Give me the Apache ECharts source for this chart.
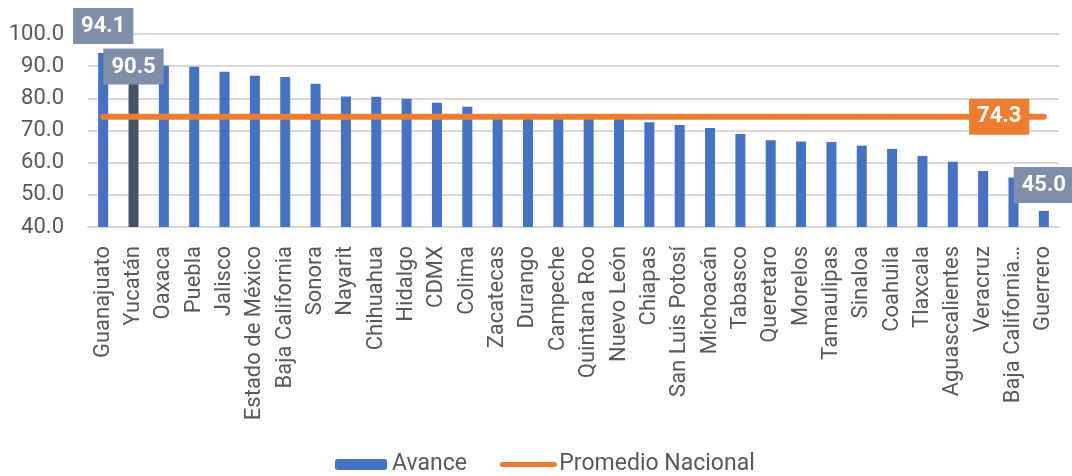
<!DOCTYPE html>
<html>
<head>
<meta charset="utf-8">
<script src="https://cdn.jsdelivr.net/npm/echarts@6/dist/echarts.min.js"></script>
<style>
html,body{margin:0;padding:0;background:#fff;}
#c{width:1072px;height:476px;}
</style>
</head>
<body>
<div id="c"></div>
<script>
const categories = ["Guanajuato","Yucatán","Oaxaca","Puebla","Jalisco","Estado de México","Baja California","Sonora","Nayarit","Chihuahua","Hidalgo","CDMX","Colima","Zacatecas","Durango","Campeche","Quintana Roo","Nuevo León","Chiapas","San Luis Potosí","Michoacán","Tabasco","Queretaro","Morelos","Tamaulipas","Sinaloa","Coahuila","Tlaxcala","Aguascalientes","Veracruz","Baja California Sur","Guerrero"];
const tickLabels = ["Guanajuato","Yucatán","Oaxaca","Puebla","Jalisco","Estado de México","Baja California","Sonora","Nayarit","Chihuahua","Hidalgo","CDMX","Colima","Zacatecas","Durango","Campeche","Quintana Roo","Nuevo León","Chiapas","San Luis Potosí","Michoacán","Tabasco","Queretaro","Morelos","Tamaulipas","Sinaloa","Coahuila","Tlaxcala","Aguascalientes","Veracruz","Baja California…","Guerrero"];
const avance = [94.1,90.5,90.1,89.8,88.3,87.0,86.6,84.5,80.6,80.5,79.9,78.6,77.4,75.0,74.6,74.2,73.9,73.6,72.6,71.7,70.8,68.9,67.0,66.6,66.4,65.3,64.3,62.1,60.3,57.4,55.4,45.0];
const promedioNacional = 74.3;
const promedio = categories.map(() => promedioNacional);
const yTicks = [40,50,60,70,80,90,100];

const boxLabel = {
  show: true,
  color: '#fff',
  fontFamily: 'Roboto',
  fontWeight: 'bold',
  fontSize: 22,
  lineHeight: 23,
  backgroundColor: '#7F8FA9',
  padding: [7, 8, 6, 8],
  formatter: p => p.value.toFixed(1)
};

const barData = avance.map((v, i) => {
  const item = { value: v };
  if (i === 1) item.itemStyle = { color: '#44546A' };
  if (i === 0) item.label = Object.assign({}, boxLabel, { position: 'top', distance: 9 });
  if (i === 1) item.label = Object.assign({}, boxLabel, { position: 'top', distance: 0, offset: [0, 20] });
  if (i === avance.length - 1) item.label = Object.assign({}, boxLabel, { position: 'top', distance: 8 });
  return item;
});

const lineData = promedio.map((v, i) => {
  const item = { value: v };
  if (i === promedio.length - 1) {
    item.label = Object.assign({}, boxLabel, { position: 'left', distance: 14, backgroundColor: '#ED7D31' });
  }
  return item;
});

const chart = echarts.init(document.getElementById('c'), null, { renderer: 'canvas' });
chart.setOption({
  animation: false,
  textStyle: { fontFamily: 'Roboto' },
  grid: { left: 88, right: 13, top: 34, bottom: 249, containLabel: false },
  legend: {
    bottom: 0,
    left: 335,
    padding: [0, 0, 0, 0],
    itemWidth: 52,
    itemHeight: 11,
    itemGap: 33,
    textStyle: { color: '#595959', fontSize: 23, fontFamily: 'Roboto' },
    data: [
      { name: 'Avance' },
      { name: 'Promedio Nacional', itemStyle: { opacity: 0 }, lineStyle: { width: 5, cap: 'round' } }
    ]
  },
  xAxis: {
    type: 'category',
    data: categories,
    boundaryGap: true,
    axisTick: { show: false },
    axisLine: { show: true, lineStyle: { color: '#D9D9D9', width: 2 } },
    axisLabel: {
      rotate: 90,
      interval: 0,
      margin: 19,
      color: '#595959',
      fontSize: 22,
      fontFamily: 'Roboto',
      formatter: (v, i) => tickLabels[i]
    }
  },
  yAxis: {
    type: 'value',
    min: 40,
    max: 100,
    interval: 10,
    axisLine: { show: false },
    axisTick: { show: false },
    splitLine: { lineStyle: { color: '#D9D9D9', width: 2 } },
    axisLabel: {
      margin: 24,
      color: '#595959',
      fontSize: 22,
      fontFamily: 'Roboto',
      formatter: v => yTicks.includes(v) ? v.toFixed(1) : ''
    }
  },
  series: [
    {
      name: 'Avance',
      type: 'bar',
      data: barData,
      barWidth: 10,
      itemStyle: { color: '#4472C4' },
      label: { show: false },
      z: 2
    },
    {
      name: 'Promedio Nacional',
      type: 'line',
      data: lineData,
      symbol: 'circle',
      symbolSize: 1,
      showSymbol: true,
      itemStyle: { color: '#ED7D31' },
      lineStyle: { color: '#ED7D31', width: 6, cap: 'round' },
      label: { show: false },
      z: 3
    }
  ]
});
</script>
</body>
</html>
